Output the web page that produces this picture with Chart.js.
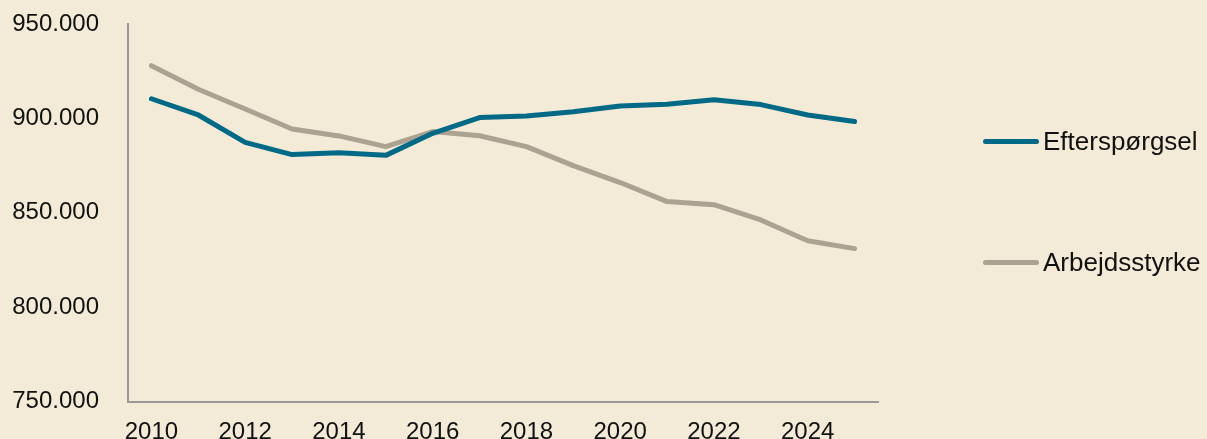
<!DOCTYPE html>
<html>
<head>
<meta charset="utf-8">
<script src="https://cdn.jsdelivr.net/npm/chart.js@4"></script>
<style>
  html, body { margin: 0; padding: 0; background: #f3ebd7; }
  #wrap { position: relative; width: 1207px; height: 439px; overflow: hidden; }
  #chart { position: absolute; left: 0; top: 0; }
  .legend-item { position: absolute; left: 983px; height: 30px; display: flex; align-items: center;
    font-family: "Liberation Sans", Arial, sans-serif; font-size: 26px; color: #111; }
  .legend-item .swatch { width: 56px; height: 5px; border-radius: 3px; margin-right: 4px; }
</style>
</head>
<body>
<div id="wrap">
  <canvas id="chart" width="1207" height="439"></canvas>
  <div id="legend"></div>
</div>
<script>
// Data
const years = ['2010', '2011', '2012', '2013', '2014', '2015', '2016', '2017',
               '2018', '2019', '2020', '2021', '2022', '2023', '2024', '2025'];
const efterspoergsel = [910400, 901800, 887300, 880800, 881800, 880400, 892100, 900400,
                        901300, 903500, 906600, 907500, 909900, 907300, 901800, 898300];
const arbejdsstyrke = [927900, 915400, 905000, 894400, 890700, 885000, 893000, 890800,
                       885000, 875000, 866000, 855900, 854300, 846200, 835200, 831000];
const yTicks = [750000, 800000, 850000, 900000, 950000];

const seriesNames = ['Efterspørgsel', 'Arbejdsstyrke'];
const seriesColors = ['#006a86', '#aca291'];

const FONT = '"Liberation Sans", Arial, sans-serif';

function formatDk(v) {
    return v.toLocaleString('da-DK');
}

function buildLegend() {
    const legend = document.getElementById('legend');
    const rows = [126.7, 247];
    seriesNames.forEach((name, i) => {
        const item = document.createElement('div');
        item.className = 'legend-item';
        item.style.top = rows[i] + 'px';
        item.innerHTML = `<span class="swatch" style="background:${seriesColors[i]}"></span>${name}`;
        legend.appendChild(item);
    });
}

function initChart() {
    const ctx = document.getElementById('chart').getContext('2d');
    new Chart(ctx, {
        type: 'line',
        data: {
            labels: years,
            datasets: [
                { label: seriesNames[0], data: efterspoergsel, borderColor: seriesColors[0] },
                { label: seriesNames[1], data: arbejdsstyrke, borderColor: seriesColors[1] }
            ]
        },
        options: {
            responsive: false,
            animation: false,
            layout: { padding: { top: 24, right: 329, left: 0, bottom: 0 } },
            elements: {
                line: { borderWidth: 5, tension: 0, borderCapStyle: 'round', borderJoinStyle: 'round' },
                point: { radius: 0, hoverRadius: 0 }
            },
            plugins: {
                legend: { display: false },
                tooltip: { enabled: false }
            },
            scales: {
                x: {
                    type: 'category',
                    offset: true,
                    grid: { display: false, drawTicks: false },
                    border: { display: true, color: '#999999', width: 2 },
                    ticks: {
                        autoSkip: false,
                        maxRotation: 0,
                        padding: 16,
                        color: '#111',
                        font: { family: FONT, size: 24 },
                        callback: function(value, index) {
                            return index % 2 === 0 ? years[index] : '';
                        }
                    },
                    afterFit: function(scale) { scale.height = 37.5; }
                },
                y: {
                    min: 750000,
                    max: 950000,
                    grid: { display: false, drawTicks: false },
                    border: { display: true, color: '#999999', width: 2 },
                    afterBuildTicks: function(scale) {
                        scale.ticks = yTicks.map(v => ({ value: v }));
                    },
                    ticks: {
                        padding: 29,
                        color: '#111',
                        font: { family: FONT, size: 24 },
                        callback: function(value) { return formatDk(value); }
                    },
                    afterFit: function(scale) {
                        scale.width = 128;
                        // tick padding is horizontal here; don't let it inflate the vertical padding
                        scale.paddingTop = 14;
                        scale.paddingBottom = 14;
                    }
                }
            }
        }
    });
}

buildLegend();
initChart();
</script>
</body>
</html>
